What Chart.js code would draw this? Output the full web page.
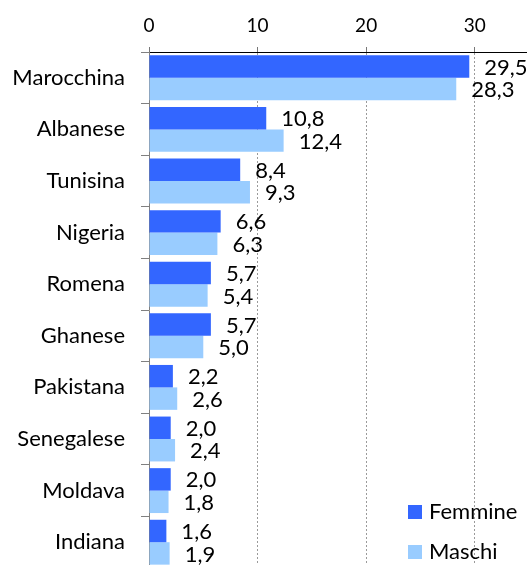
<!DOCTYPE html>
<html>
<head>
<meta charset="utf-8">
<script src="https://cdn.jsdelivr.net/npm/chart.js@4"></script>
<style>
  html, body { margin: 0; padding: 0; background: #fff; overflow: hidden; }
  canvas { display: block; }
</style>
</head>
<body>
<canvas id="chart" width="529" height="568"></canvas>
<script>
// data
const categories = ['Marocchina', 'Albanese', 'Tunisina', 'Nigeria', 'Romena',
  'Ghanese', 'Pakistana', 'Senegalese', 'Moldava', 'Indiana'];
const femmine = [29.5, 10.8, 8.4, 6.6, 5.7, 5.7, 2.2, 2.0, 2.0, 1.6];
const maschi = [28.3, 12.4, 9.3, 6.3, 5.4, 5.0, 2.6, 2.4, 1.8, 1.9];
const seriesNames = ['Femmine', 'Maschi'];
const tickValues = [0, 10, 20, 30];

const FONT = 'Lato, "Liberation Sans", sans-serif';

// value labels to the right of each bar, italian decimal comma
const valueLabels = {
  id: 'valueLabels',
  afterDatasetsDraw(chart) {
    const ctx = chart.ctx;
    ctx.save();
    ctx.font = '22px ' + FONT;
    ctx.fillStyle = '#000';
    ctx.textAlign = 'left';
    ctx.textBaseline = 'middle';
    chart.data.datasets.forEach((ds, i) => {
      chart.getDatasetMeta(i).data.forEach((bar, j) => {
        ctx.fillText(ds.data[j].toFixed(1).replace('.', ','), bar.x + 15, bar.y + 1);
      });
    });
    ctx.restore();
  }
};

// legend sits inside the plot, bottom right
const innerLegend = {
  id: 'innerLegend',
  afterDraw(chart) {
    const ctx = chart.ctx;
    ctx.save();
    ctx.font = '22px ' + FONT;
    ctx.textBaseline = 'middle';
    chart.data.datasets.forEach((ds, i) => {
      const y = 505 + i * 40;
      ctx.fillStyle = ds.backgroundColor;
      ctx.fillRect(408, y, 14, 14);
      ctx.fillStyle = '#000';
      ctx.fillText(ds.label, 429, y + 7);
    });
    ctx.restore();
  }
};

new Chart(document.getElementById('chart'), {
  type: 'bar',
  data: {
    labels: categories,
    datasets: [
      { label: seriesNames[0], data: femmine, backgroundColor: '#3366FF' },
      { label: seriesNames[1], data: maschi, backgroundColor: '#99CCFF' }
    ]
  },
  options: {
    indexAxis: 'y',
    responsive: false,
    animation: false,
    categoryPercentage: 0.87,
    barPercentage: 1,
    layout: { padding: 0 },
    plugins: {
      legend: { display: false },
      tooltip: { enabled: false }
    },
    scales: {
      x: {
        position: 'top',
        min: 0,
        max: 35,
        afterFit(scale) { scale.height = 52; },
        afterBuildTicks(scale) {
          scale.ticks = tickValues.map(v => ({ value: v }));
        },
        ticks: {
          color: '#000',
          font: { family: FONT, size: 19 },
          padding: 10
        },
        grid: {
          color: ctx => (ctx.tick && ctx.tick.value === 0) ? 'rgba(0,0,0,0)' : '#9a9a9a',
          tickColor: '#777',
          tickLength: 5
        },
        border: { color: '#000', width: 1, dash: [2, 2] }
      },
      y: {
        afterFit(scale) {
          scale.width = 149;
          // bars run down to the bottom edge, no room kept for label overhang
          scale.paddingTop = 0;
          scale.paddingBottom = 0;
        },
        ticks: {
          color: '#000',
          font: { family: FONT, size: 22 },
          padding: 16
        },
        grid: {
          drawOnChartArea: false,
          tickColor: '#808080',
          tickLength: 8
        },
        border: { color: '#808080', width: 1 }
      }
    }
  },
  plugins: [valueLabels, innerLegend]
});
</script>
</body>
</html>
